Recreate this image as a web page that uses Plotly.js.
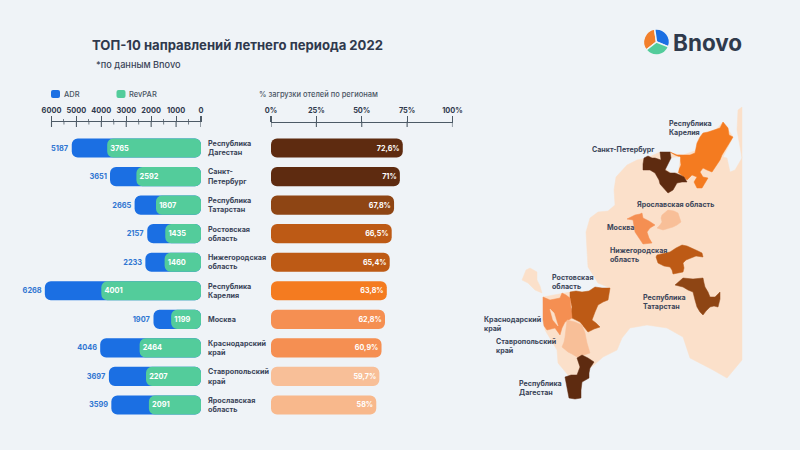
<!DOCTYPE html>
<html><head><meta charset="utf-8">
<script src="https://cdn.plot.ly/plotly-3.0.1.min.js"></script>
<style>html,body{margin:0;padding:0;background:#eff3f7}</style></head>
<body><div id="chart" style="width:800px;height:450px"></div>
<script>
// ---- data ----
const regions = ["Республика<br>Дагестан","Санкт-<br>Петербург","Республика<br>Татарстан","Ростовская<br>область","Нижегородская<br>область","Республика<br>Карелия","Москва","Краснодарский<br>край","Ставропольский<br>край","Ярославская<br>область"];
const adr = [5187,3651,2665,2157,2233,6268,1907,4046,3697,3599];
const revpar = [3765,2592,1807,1435,1460,4001,1199,2464,2207,2091];
const load = [72.6,71,67.8,66.5,65.4,63.8,62.8,60.9,59.7,58];
const loadLabels = ["72,6%","71%","67,8%","66,5%","65,4%","63,8%","62,8%","60,9%","59,7%","58%"];
const loadColors = ["#5e2b10","#5e2b10","#8e4514","#bd5a15","#bd5a15","#f47b20","#f58f52","#f58f52","#f8bf98","#f8b88c"];
const moneyTicks = [6000,5000,4000,3000,2000,1000,0];
const moneyMinor = [5500,4500,3500,2500,1500,500];
const loadTicks = [0,25,50,75,100];
const logoShares = [1,1,1];

// map outlines (picture pixels) drawn on a hidden axis pair
const mapBase = [[742,107],[742,360],[727,378],[713,370],[690,358],[683,337],[667,328],[647,325],[630,328],[622,338],[617,350],[603,357],[594,365],[577,377],[568,375],[558,363],[557,350],[545,330],[543,297],[570,292],[587,292],[610,288],[598,283],[588,267],[587,250],[586,232],[590,218],[598,212],[608,211],[615,205],[614,190],[616,177],[627,165],[637,160],[647,158],[660,152],[683,155],[697,150],[723,122],[733,137],[723,157],[727,158],[730,172],[735,170],[742,158],[737,130],[738,110]];
const mapCrimea = [[522,280],[526,270],[530,268],[537,272],[537,280],[540,286],[542,293],[535,290],[528,283]];
const mapKarelia = [[723,122],[726,125],[728,128],[729,135],[733,137],[730,142],[728,145],[725,150],[722,155],[720,160],[718,163],[712,172],[707,170],[703,168],[700,172],[703,177],[708,178],[705,183],[702,188],[697,188],[694,182],[697,177],[692,175],[687,180],[683,176],[678,172],[681,165],[680,157],[675,155],[670,152],[677,155],[683,155],[690,155],[695,153],[696,147],[697,143],[700,137],[703,133],[708,132],[713,130],[717,129],[720,128]];
const mapLake = [[665,168],[669,161],[672,158],[680,157],[678,172],[672,173]];
const mapPiter = [[660,152],[665,152],[670,152],[671,158],[667,165],[665,170],[670,173],[675,173],[680,175],[684,177],[687,182],[682,182],[677,183],[675,186],[673,190],[668,193],[665,190],[663,188],[660,184],[659,180],[655,173],[650,170],[643,170],[643,164],[644,158],[648,156],[652,158],[655,158],[661,160]];
const mapYaroslavl = [[668,210],[674,211],[678,213],[681,222],[677,225],[673,227],[663,230],[657,228],[660,225],[662,222],[661,218],[662,215]];
const mapMoscow = [[627,219],[632,217],[635,215],[640,214],[642,213],[643,218],[649,221],[655,225],[650,228],[647,232],[649,238],[652,243],[643,244],[639,238],[635,232],[634,226],[633,220]];
const mapNizhny = [[657,255],[664,253],[670,252],[676,248],[682,245],[687,246],[692,248],[698,251],[702,253],[703,257],[696,256],[690,258],[686,260],[683,263],[684,268],[683,272],[678,273],[673,274],[672,270],[670,267],[664,266],[658,263],[656,257]];
const mapTatarstan = [[675,285],[679,281],[683,278],[693,279],[703,278],[704,283],[705,287],[708,292],[710,297],[715,297],[718,294],[720,292],[720,299],[718,307],[714,306],[710,307],[706,311],[703,315],[700,312],[697,307],[695,300],[693,292],[688,290],[683,287]];
const mapRostov = [[570,292],[576,291],[582,292],[589,291],[595,287],[602,288],[610,288],[609,295],[608,300],[603,302],[598,305],[595,312],[592,320],[596,323],[600,327],[594,329],[588,332],[584,327],[580,322],[576,320],[572,318],[571,312],[572,307],[570,298]];
const mapKrasnodar = [[543,297],[550,300],[555,299],[560,298],[562,293],[566,295],[570,298],[571,308],[572,318],[565,322],[562,328],[560,335],[557,331],[555,328],[551,329],[547,330],[544,326],[543,320]];
const mapAzov = [[550,309],[554,313],[558,326],[553,320]];
const mapStavropol = [[567,320],[575,322],[582,325],[585,333],[587,343],[590,353],[584,355],[577,357],[572,354],[568,352],[562,347],[564,342],[565,337]];
const mapDagestan = [[582,355],[588,358],[594,362],[590,368],[589,373],[589,378],[582,382],[581,390],[581,398],[575,399],[569,398],[567,387],[565,377],[571,375],[577,375],[580,367],[578,362],[577,358]];
const mapLayers = [[mapBase,"#fbe0ca"],[mapCrimea,"#fbe0ca"],[mapKarelia,"#f47b20"],[mapLake,"#eff3f7"],[mapPiter,"#5e2b10"],[mapYaroslavl,"#f8bf98"],[mapMoscow,"#f58f52"],[mapNizhny,"#bd5a15"],[mapTatarstan,"#8e4514"],[mapRostov,"#bd5a15"],[mapKrasnodar,"#f58f52"],[mapAzov,"#fbe0ca"],[mapStavropol,"#f8bf98"],[mapDagestan,"#5e2b10"]];

const mapLabels = [["Республика<br>Карелия",669,128],["Санкт-Петербург",592,150],["Ярославская область",637,204],["Москва",607,227],["Нижегородская<br>область",610,255],["Ростовская<br>область",552,282],["Республика<br>Татарстан",643,302],["Краснодарский<br>край",484,324],["Ставропольский<br>край",496,346],["Республика<br>Дагестан",519,388]];

// ---- styling ----
const FONT = "Inter, 'Open Sans', sans-serif";
const INK = "#3a4458", AXIS = "#4d5a66", BG = "#eff3f7";
const H = 450, W = 800;
const px = x => x / W, py = y => 1 - y / H;
const rowTop = 133.75, rowBottom = 419.25, axisY = 121.5;
const pxPerMoney = 149.5 / 6000;
const moneyOverflow = 8000;

const traces = [];
mapLayers.forEach(([pts, color]) => traces.push({
  type:"scatter", mode:"lines", xaxis:"x3", yaxis:"y3", fill:"toself", fillcolor:color,
  x:pts.map(p=>p[0]).concat(pts[0][0]), y:pts.map(p=>p[1]).concat(pts[0][1]),
  line:{color:color,width:0.5}, hoverinfo:"skip", showlegend:false
}));
traces.push({type:"bar",orientation:"h",name:"ADR",x:adr,base:0,y:regions,xaxis:"x",yaxis:"y",
  marker:{color:"#1b6fe3",cornerradius:6},width:0.67,text:adr.map(String),textposition:"outside",cliponaxis:false,
  textfont:{family:FONT,size:7.4,color:"#2f76d2",weight:700},showlegend:false});
traces.push({type:"bar",orientation:"h",name:"RevPAR",x:revpar,base:0,y:regions,xaxis:"x",yaxis:"y",
  marker:{color:"#53cc9b",cornerradius:6},width:0.67,text:revpar.map(String),textposition:"inside",insidetextanchor:"end",cliponaxis:false,
  textfont:{family:FONT,size:7.4,color:"#ffffff",weight:700},constraintext:"none",showlegend:false});
traces.push({type:"bar",orientation:"h",name:"% загрузки",x:load,base:0,y:regions,xaxis:"x2",yaxis:"y2",
  marker:{color:loadColors,cornerradius:6},width:0.67,text:loadLabels,textposition:"inside",insidetextanchor:"end",
  textfont:{family:FONT,size:7.2,color:"#ffffff",weight:700},constraintext:"none",showlegend:false});
traces.push({type:"pie",values:logoShares,domain:{x:[px(643.5),px(669.5)],y:[py(55.5),py(28.5)]},sort:false,direction:"clockwise",rotation:-128,
  marker:{colors:["#f27f2c","#1b6fe3","#53cc9b"],line:{color:BG,width:1.5}},textinfo:"none",hoverinfo:"skip",showlegend:false});

const ann = (text,x,y,size,weight,color) => ({text,x:px(x-2),y:py(y),xref:"paper",yref:"paper",xanchor:"left",yanchor:"middle",align:"left",showarrow:false,
  font:{family:FONT,size,color,weight}});

const annotations = [
  ann("ТОП-10 направлений летнего периода 2022",92,45,13.1,700,"#2f394d"),
  ann("*по данным Bnovo",96,64,9.2,500,"#3a4458"),
  ann("ADR",64,94,7.5,500,"#4a5564"),
  ann("RevPAR",129,94,7.5,500,"#4a5564"),
  ann("% загрузки отелей по регионам",259,94,7.5,500,"#4a5564"),
  ann("Bnovo",673,42.5,22.5,700,"#2f3a4c"),
].concat(mapLabels.map(([t,x,y]) => ann(t,x,y,7.1,700,INK)));

const tickShape = (xref,v,y1,w) => ({type:"line",xref,yref:"paper",x0:v,x1:v,y0:py(axisY),y1:py(y1),line:{color:AXIS,width:w},layer:"above"});
const swatch = (x,color) => ({type:"path",xref:"paper",yref:"paper",
  path:`M${px(x+2)} ${py(90)} L${px(x+7)} ${py(90)} Q${px(x+9)} ${py(90)} ${px(x+9)} ${py(92)} L${px(x+9)} ${py(96)} Q${px(x+9)} ${py(98)} ${px(x+7)} ${py(98)} L${px(x+2)} ${py(98)} Q${px(x)} ${py(98)} ${px(x)} ${py(96)} L${px(x)} ${py(92)} Q${px(x)} ${py(90)} ${px(x+2)} ${py(90)} Z`,
  fillcolor:color,line:{width:0}});

const shapes = [swatch(51,"#1b6fe3"),swatch(116.5,"#53cc9b"),
  {type:"line",xref:"x",yref:"paper",x0:6000,x1:0,y0:py(axisY),y1:py(axisY),line:{color:AXIS,width:1.1},layer:"above"}]
  .concat(moneyTicks.map(v=>tickShape("x",v,127,1.1)))
  .concat(moneyMinor.map(v=>tickShape("x",v,124.5,0.8)))
  .concat(loadTicks.map(v=>tickShape("x2",v,127,1.1)));

const topAxis = {side:"top",anchor:"free",position:py(axisY),showgrid:false,zeroline:false,
  ticks:"outside",ticklen:5.5,tickwidth:1.1,tickcolor:AXIS,tickfont:{family:FONT,size:7.4,color:"#2f394d",weight:700},fixedrange:true};

const layout = {
  width:W,height:H,margin:{l:0,r:0,t:0,b:0},paper_bgcolor:BG,plot_bgcolor:"rgba(0,0,0,0)",
  barmode:"overlay",showlegend:false,
  font:{family:FONT},
  xaxis:Object.assign({},topAxis,{domain:[px(201-moneyOverflow*pxPerMoney),px(201)],range:[moneyOverflow,0],showline:false,tickvals:moneyTicks,ticktext:moneyTicks.map(String),
    minor:{tickvals:moneyMinor,ticklen:2.5,tickwidth:0.8,tickcolor:AXIS,ticks:"outside"}}),
  xaxis2:Object.assign({},topAxis,{domain:[px(271),px(452.5)],range:[0,100],showline:true,linecolor:AXIS,linewidth:1.1,ticklabelshift:1.5,tickvals:loadTicks,ticktext:loadTicks.map(v=>v+"%")}),
  yaxis:{domain:[py(rowBottom),py(rowTop)],type:"category",categoryorder:"array",categoryarray:regions,range:[9.5,-0.5],anchor:"x",side:"right",
    showline:false,showgrid:false,zeroline:false,ticks:"",ticklabelstandoff:6,tickfont:{family:FONT,size:7.2,color:INK,weight:700},fixedrange:true},
  yaxis2:{domain:[py(rowBottom),py(rowTop)],type:"category",categoryorder:"array",categoryarray:regions,range:[9.5,-0.5],anchor:"x2",visible:false,fixedrange:true},
  xaxis3:{domain:[0,1],range:[0,W],visible:false,fixedrange:true,anchor:"y3"},
  yaxis3:{domain:[0,1],range:[H,0],visible:false,fixedrange:true,anchor:"x3"},
  annotations,shapes
};
Plotly.newPlot("chart",traces,layout,{displayModeBar:false,staticPlot:true});
</script></body></html>
